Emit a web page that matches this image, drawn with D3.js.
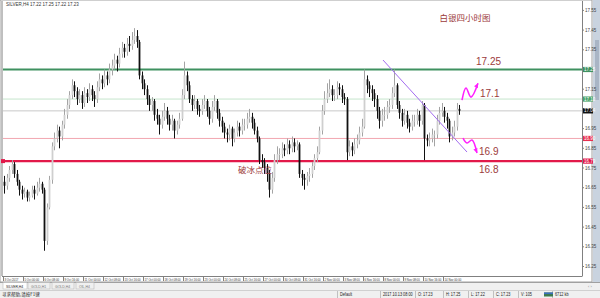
<!DOCTYPE html>
<html><head><meta charset="utf-8">
<script src="https://cdn.jsdelivr.net/npm/d3@7"></script>
<style>
html,body{margin:0;padding:0;background:#fff;}
svg{display:block;font-family:"Liberation Sans",Arial,sans-serif;}
</style></head><body>
<script>
// ---- data ----
const firstOpen = 16.68;
const closes = [16.66,16.70,16.74,16.77,16.72,16.68,16.64,16.62,16.63,16.60,16.61,16.64,16.62,16.65,16.67,16.64,16.38,16.55,16.69,16.86,
16.90,16.94,16.91,16.97,17.02,17.07,17.12,17.17,17.14,17.10,17.12,17.08,17.13,17.11,17.15,17.12,17.10,17.16,17.20,17.18,
17.22,17.20,17.25,17.27,17.30,17.28,17.33,17.36,17.34,17.38,17.37,17.40,17.42,17.39,17.22,17.18,17.15,17.10,17.07,17.09,
17.02,17.00,16.97,17.01,17.04,17.00,16.97,16.99,16.94,16.97,17.00,17.12,17.22,17.17,17.10,17.07,17.09,17.05,17.04,17.07,
17.09,17.04,17.00,17.06,17.09,17.03,16.99,16.96,16.93,16.92,16.95,16.90,16.93,16.96,16.94,16.97,16.97,17.00,17.01,16.98,
16.94,16.90,16.79,16.78,16.75,16.72,16.64,16.70,16.79,16.82,16.82,16.85,16.84,16.87,16.85,16.88,16.86,16.87,16.72,16.70,
16.69,16.71,16.72,16.76,16.80,16.83,16.94,17.04,17.10,17.13,17.15,17.12,17.12,17.16,17.15,17.11,17.10,16.83,16.86,16.84,
16.87,16.89,16.93,16.96,17.20,17.17,17.15,17.13,17.10,17.04,16.99,17.02,17.02,17.06,17.07,17.13,17.17,17.07,17.03,16.99,
17.02,16.98,16.96,16.99,16.99,17.02,16.99,17.07,16.90,16.89,16.90,16.92,16.92,16.99,17.03,17.04,17.01,16.99,16.91,16.93,
16.96,17.05,17.04];
const highs = [16.71,16.72,16.76,16.79,16.78,16.74,16.69,16.66,16.65,16.64,16.63,16.66,16.66,16.68,16.70,16.68,16.65,16.57,16.71,16.88,
16.93,16.97,16.96,16.99,17.05,17.10,17.14,17.20,17.19,17.16,17.15,17.14,17.16,17.15,17.18,17.17,17.14,17.19,17.23,17.22,
17.25,17.24,17.28,17.30,17.33,17.32,17.36,17.39,17.38,17.41,17.42,17.44,17.46,17.45,17.40,17.24,17.20,17.17,17.12,17.11,
17.10,17.05,17.02,17.04,17.08,17.06,17.02,17.02,17.00,16.99,17.03,17.15,17.29,17.24,17.19,17.12,17.12,17.10,17.07,17.10,
17.12,17.10,17.06,17.09,17.12,17.10,17.05,17.01,16.98,16.95,16.97,16.96,16.95,16.99,16.98,17.00,17.00,17.03,17.05,17.03,
17.00,16.96,16.91,16.82,16.80,16.77,16.74,16.73,16.82,16.86,16.85,16.88,16.87,16.90,16.89,16.91,16.90,16.89,16.88,16.74,
16.72,16.73,16.75,16.78,16.82,16.86,16.96,17.07,17.14,17.18,17.20,17.17,17.15,17.19,17.18,17.17,17.13,17.11,16.89,16.88,
16.90,16.92,16.96,17.00,17.25,17.22,17.19,17.17,17.15,17.12,17.06,17.05,17.06,17.09,17.10,17.16,17.25,17.18,17.09,17.05,
17.05,17.04,17.00,17.02,17.02,17.05,17.04,17.09,17.08,16.92,16.93,16.95,16.94,17.02,17.06,17.08,17.06,17.03,17.00,16.96,
16.99,17.08,17.07];
const lows = [16.62,16.64,16.68,16.72,16.70,16.66,16.61,16.59,16.60,16.58,16.58,16.60,16.59,16.61,16.63,16.62,16.33,16.36,16.54,16.67,
16.84,16.88,16.85,16.89,16.95,17.00,17.05,17.10,17.11,17.07,17.08,17.05,17.06,17.08,17.09,17.09,17.06,17.08,17.14,17.15,
17.16,17.17,17.18,17.22,17.25,17.24,17.26,17.31,17.31,17.32,17.34,17.35,17.38,17.36,17.20,17.15,17.12,17.07,17.04,17.04,
16.99,16.97,16.92,16.95,16.99,16.97,16.94,16.94,16.90,16.92,16.95,16.99,17.10,17.14,17.08,17.04,17.05,17.02,17.01,17.02,
17.05,17.01,16.97,16.98,17.04,17.00,16.96,16.93,16.90,16.88,16.89,16.86,16.88,16.91,16.91,16.92,16.94,16.95,16.98,16.95,
16.92,16.88,16.77,16.75,16.72,16.68,16.60,16.62,16.68,16.77,16.79,16.80,16.81,16.82,16.82,16.83,16.83,16.84,16.70,16.66,
16.64,16.66,16.68,16.70,16.74,16.78,16.82,16.92,17.02,17.08,17.11,17.09,17.09,17.10,17.12,17.08,17.07,16.79,16.81,16.81,
16.82,16.85,16.87,16.91,16.95,17.13,17.11,17.09,17.06,17.00,16.95,16.96,16.99,17.00,17.03,17.05,17.11,17.05,17.00,16.96,
16.97,16.95,16.93,16.94,16.96,16.97,16.96,16.97,16.79,16.86,16.86,16.88,16.86,16.90,16.97,17.01,16.98,16.95,16.88,16.89,
16.91,16.94,17.02];
const priceTicks = [17.55,17.45,17.35,17.25,17.15,17.05,16.95,16.85,16.75,16.65,16.55,16.45,16.35,16.25];
const timeLabels = ["3 Oct 2017","5 Oct 00:00","6 Oct 08:00","9 Oct 16:00","11 Oct 00:00","12 Oct 08:00","13 Oct 16:00",
"17 Oct 00:00","18 Oct 08:00","19 Oct 16:00","23 Oct 00:00","24 Oct 08:00","25 Oct 16:00","27 Oct 00:00","30 Oct 08:00",
"31 Oct 16:00","2 Nov 00:00","3 Nov 08:00","6 Nov 16:00","8 Nov 00:00","9 Nov 08:00","10 Nov 16:00","14 Nov 00:00"];
const barsPerLabel = 8;
const levelPrices = [17.25, 17.10, 16.90, 16.785];
const levelKinds = ["greenThick","greenThin","redThin","redThick"];
const bidPrice = 17.04;
const trendBars = [152, 185.6];
const trendPrices = [17.298, 16.831];
const upArrowBars = [183.6, 185.2, 187.2, 190];
const upArrowPrices = [17.095, 17.156, 17.110, 17.18];
const downArrowBars = [184, 185.6, 187.6, 189.6];
const downArrowPrices = [16.902, 16.877, 16.892, 16.826];
const noteTexts = ["白银四小时图","17.25","17.1","16.9","16.8","破冰点位"];
const noteBars = [174.6, 189.2, 190.8, 190.4, 190.4, 94];
const notePrices = [17.494, 17.273, 17.11, 16.817, 16.726, 16.725];
const tabs = ["SILVER,H4","GOLD,H1","GOLD,H4","OIL,H4"];
const statusItems = ["Default","2017.10.13 08:00","O: 17.23","H: 17.25","L: 17.22","C: 17.23","V: 105","6712 kb"];

// ---- drawing ----
const W = 600, H = 298;
const svg = d3.select("body").append("svg").attr("width", W).attr("height", H);
const plotL = 3, plotR = 582, plotT = 1, plotB = 276;
const x = d3.scaleLinear().domain([0, 231.6]).range([plotL, plotR]);
const y = d3.scaleLinear().domain([16.25, 17.55]).range([266.5, 10.4]);

svg.append("rect").attr("width", W).attr("height", H).attr("fill", "#fff");
// frame
svg.append("rect").attr("x", 0).attr("y", 0).attr("width", 592).attr("height", 282).attr("fill", "#fff").attr("stroke", "#a0a0a0");
svg.append("line").attr("x1", plotL - 1).attr("x2", plotL - 1).attr("y1", plotT).attr("y2", plotB).attr("stroke", "#808080");
svg.append("line").attr("x1", plotR + 0.5).attr("x2", plotR + 0.5).attr("y1", plotT).attr("y2", plotB).attr("stroke", "#808080");
svg.append("line").attr("x1", plotL - 1).attr("x2", plotR + 0.5).attr("y1", plotB + 0.5).attr("y2", plotB + 0.5).attr("stroke", "#808080");
// scrollbar
svg.append("rect").attr("x", 593).attr("y", 0).attr("width", 7).attr("height", 282).attr("fill", "#c9d3df");
svg.append("rect").attr("x", 595).attr("y", 40).attr("width", 4).attr("height", 60).attr("fill", "#a9b5c5");

// bid line
svg.append("line").attr("x1", plotL).attr("x2", plotR).attr("y1", y(bidPrice)).attr("y2", y(bidPrice)).attr("stroke", "#c8c8c8").attr("stroke-width", 1);

// level lines
const levelStyle = {
  greenThick: {c: "#3f9160", w: 2.2, box: "#3f9160"},
  greenThin: {c: "#c5e5cc", w: 1, box: "#4aa36a"},
  redThin: {c: "#f2a6b0", w: 1, box: "#e8304f"},
  redThick: {c: "#e2194a", w: 2.2, box: "#e2194a"}
};
levelPrices.forEach((p, k) => {
  const s = levelStyle[levelKinds[k]];
  svg.append("line").attr("x1", plotL).attr("x2", plotR).attr("y1", y(p)).attr("y2", y(p)).attr("stroke", s.c).attr("stroke-width", s.w);
});
svg.append("rect").attr("x", 1).attr("y", y(16.785) - 2).attr("width", 4).attr("height", 4).attr("fill", "#e2194a");

// candles
const opens = closes.map((c, i) => i === 0 ? firstOpen : closes[i - 1]);
const bw = 1.8;
const g = svg.append("g");
closes.forEach((c, i) => {
  const o = opens[i], up = c >= o;
  const cx = Math.round(x(i + 0.5)) + 0.5;
  g.append("line").attr("x1", cx).attr("x2", cx).attr("y1", y(highs[i])).attr("y2", y(lows[i]))
    .attr("stroke", up ? "#a4a4a4" : "#111").attr("stroke-width", 1);
  const top = y(Math.max(o, c)), bot = y(Math.min(o, c));
  g.append("rect").attr("x", cx - bw / 2).attr("y", top).attr("width", bw).attr("height", Math.max(0.8, bot - top))
    .attr("fill", up ? "#cfcfcf" : "#111");
});

// trend line
svg.append("line").attr("x1", x(trendBars[0])).attr("y1", y(trendPrices[0]))
  .attr("x2", x(trendBars[1])).attr("y2", y(trendPrices[1])).attr("stroke", "#a36cf0").attr("stroke-width", 1);

// arrows
function arrow(bars, prices) {
  const pts = bars.map((b, k) => [x(b), y(prices[k])]);
  svg.append("path").attr("d", d3.line().curve(d3.curveCatmullRom)(pts)).attr("fill", "none")
    .attr("stroke", "#ff1fff").attr("stroke-width", 1.6);
  const [a, b] = [pts[pts.length - 2], pts[pts.length - 1]];
  const ang = Math.atan2(b[1] - a[1], b[0] - a[0]);
  const L = 5, sp = 0.45;
  const p1 = [b[0] - L * Math.cos(ang - sp), b[1] - L * Math.sin(ang - sp)];
  const p2 = [b[0] - L * Math.cos(ang + sp), b[1] - L * Math.sin(ang + sp)];
  svg.append("path").attr("d", `M${b[0]},${b[1]}L${p1[0]},${p1[1]}L${p2[0]},${p2[1]}Z`).attr("fill", "#ff1fff");
}
arrow(upArrowBars, upArrowPrices);
arrow(downArrowBars, downArrowPrices);

// notes
noteTexts.forEach((t, k) => {
  const cjk = /[\u4e00-\u9fff]/.test(t);
  svg.append("text").attr("x", x(noteBars[k])).attr("y", y(notePrices[k]))
    .attr("font-size", cjk ? 8.5 : 10).attr("fill", "#9c3b3b")
    .attr("font-family", cjk ? "'Noto Sans CJK SC',sans-serif" : "'Liberation Sans',Arial,sans-serif")
    .text(t);
});

// header text
svg.append("text").attr("x", 6).attr("y", 6).attr("font-size", 4.5).attr("fill", "#333").text("SILVER,H4  17.22 17.25 17.22 17.23");

// condensed small text helper
function smallText(px, py, t, size, sx, color) {
  return svg.append("text").attr("transform", `translate(${px},${py}) scale(${sx},1)`)
    .attr("font-size", size).attr("fill", color).text(t);
}

// price axis
const boxPrices = levelPrices.concat([bidPrice]);
priceTicks.forEach(p => {
  svg.append("line").attr("x1", plotR).attr("x2", plotR + 2).attr("y1", y(p)).attr("y2", y(p)).attr("stroke", "#808080");
  const hidden = boxPrices.some(b => Math.abs(y(b) - y(p)) < 5.5);
  if (!hidden) svg.append("text").attr("x", plotR + 3).attr("y", y(p) + 1.6).attr("font-size", 4.5).attr("fill", "#444").text(p.toFixed(2));
});
levelPrices.forEach((p, k) => {
  const s = levelStyle[levelKinds[k]];
  svg.append("rect").attr("x", plotR + 1).attr("y", y(p) - 2.6).attr("width", 10).attr("height", 5.2).attr("fill", s.box);
  svg.append("text").attr("x", plotR + 2).attr("y", y(p) + 1.6).attr("font-size", 4.5).attr("fill", "#fff").text(p.toFixed(2));
});
svg.append("rect").attr("x", plotR + 1).attr("y", y(bidPrice) - 2.6).attr("width", 10).attr("height", 5.2).attr("fill", "#111");
svg.append("text").attr("x", plotR + 2).attr("y", y(bidPrice) + 1.6).attr("font-size", 4.5).attr("fill", "#fff").text(bidPrice.toFixed(2));

// time axis
timeLabels.forEach((t, k) => {
  const tx = x(k * barsPerLabel);
  svg.append("line").attr("x1", tx + 0.5).attr("x2", tx + 0.5).attr("y1", plotB).attr("y2", plotB + 5).attr("stroke", "#808080");
  smallText(tx + 1.5, plotB + 4.6, t, 4.3, 0.66, "#333");
});

// tabs bar
svg.append("rect").attr("x", 0).attr("y", 282).attr("width", W).attr("height", 8).attr("fill", "#f0f0f0");
svg.append("line").attr("x1", 0).attr("x2", W).attr("y1", 282.5).attr("y2", 282.5).attr("stroke", "#a0a0a0");
const tabX = [3, 28, 52, 76], tabW = [24, 22, 22, 18];
tabs.forEach((t, k) => {
  svg.append("rect").attr("x", tabX[k]).attr("y", 282.5).attr("width", tabW[k]).attr("height", 6.5)
    .attr("fill", k === 0 ? "#fff" : "#f0f0f0").attr("stroke", "#b0b0b0").attr("stroke-width", 0.5);
  smallText(tabX[k] + 3, 287.8, t, 4.3, 0.8, k === 0 ? "#222" : "#777");
});
svg.append("text").attr("x", 588).attr("y", 288).attr("font-size", 4).attr("fill", "#888").text("‹ ›");

// status bar
svg.append("rect").attr("x", 0).attr("y", 290).attr("width", W).attr("height", 8).attr("fill", "#f0f0f0");
svg.append("line").attr("x1", 0).attr("x2", W).attr("y1", 290.5).attr("y2", 290.5).attr("stroke", "#d0d0d0");
svg.append("text").attr("x", 2).attr("y", 296).attr("font-size", 4.5).attr("fill", "#222")
  .attr("font-family", "'Noto Sans CJK SC',sans-serif").text("寻求帮助,请按F1键");
const statusX = [340, 383, 418, 446, 471, 496, 521, 555];
statusItems.forEach((t, k) => {
  svg.append("line").attr("x1", statusX[k] - 2.5).attr("x2", statusX[k] - 2.5).attr("y1", 291).attr("y2", 298).attr("stroke", "#c0c0c0");
  smallText(statusX[k], 296, t, 4.5, 0.85, "#222");
});
svg.append("rect").attr("x", 544).attr("y", 292.5).attr("width", 9).attr("height", 4).attr("fill", "#3c7a4a");
svg.append("rect").attr("x", 544).attr("y", 292.5).attr("width", 9).attr("height", 1.6).attr("fill", "#3a6fbf");
</script>
</body></html>
